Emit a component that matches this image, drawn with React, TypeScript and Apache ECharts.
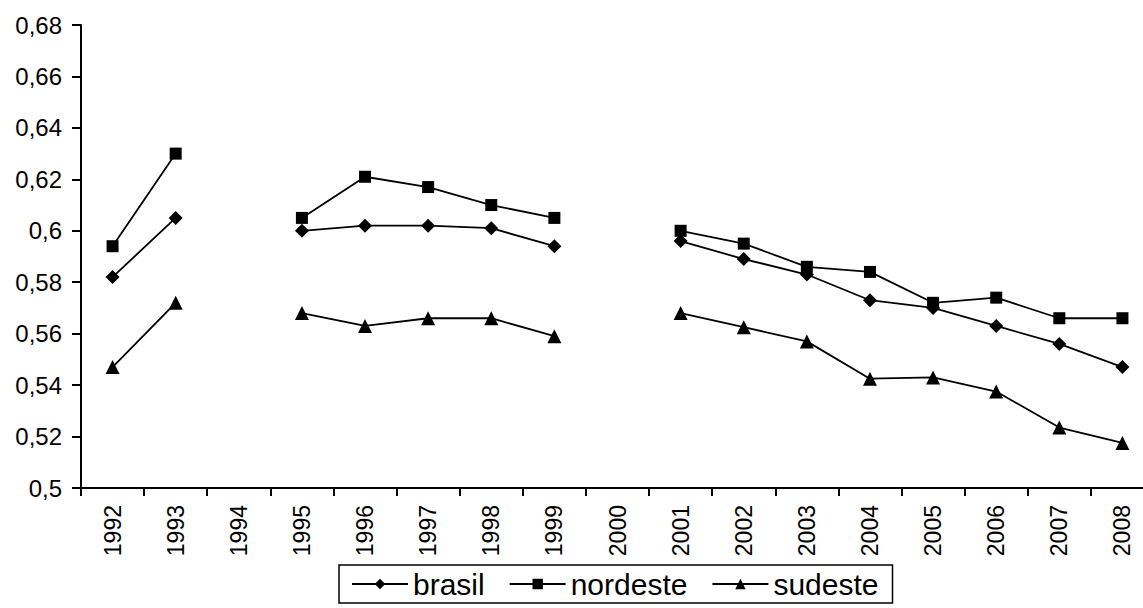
import React, { useEffect, useRef } from "react";
import * as echarts from "echarts";

// Years on the category axis (1994 and 2000 have no survey data)
const years = [
  "1992", "1993", "1994", "1995", "1996", "1997", "1998", "1999", "2000",
  "2001", "2002", "2003", "2004", "2005", "2006", "2007", "2008",
];

const brasil = [
  0.582, 0.605, null, 0.600, 0.602, 0.602, 0.601, 0.594, null,
  0.596, 0.589, 0.583, 0.573, 0.570, 0.563, 0.556, 0.547,
];

const nordeste = [
  0.594, 0.630, null, 0.605, 0.621, 0.617, 0.610, 0.605, null,
  0.600, 0.595, 0.586, 0.584, 0.572, 0.574, 0.566, 0.566,
];

const sudeste = [
  0.547, 0.572, null, 0.568, 0.563, 0.566, 0.566, 0.559, null,
  0.568, 0.5625, 0.557, 0.5425, 0.543, 0.5375, 0.5235, 0.5175,
];

const yMin = 0.5;
const yMax = 0.68;
const yStep = 0.02;

const FONT = "'Liberation Sans', Arial, sans-serif";

function fmtComma(v: number): string {
  return String(Number(v.toFixed(2))).replace(".", ",");
}

export default function App() {
  const ref = useRef<HTMLDivElement>(null);

  useEffect(() => {
    if (!ref.current) return;
    const chart = echarts.init(ref.current, undefined, { renderer: "svg" });

    const mkSeries = (name: string, data: (number | null)[], symbol: string, size: number) => ({
      name,
      type: "line",
      data,
      symbol,
      symbolSize: size,
      connectNulls: false,
      lineStyle: { color: "#000", width: 1.8 },
      itemStyle: { color: "#000" },
    });

    chart.setOption({
      animation: false,
      backgroundColor: "#fff",
      grid: { left: 81, top: 25, right: 6, bottom: 120, containLabel: false },
      xAxis: {
        type: "category",
        data: years,
        boundaryGap: true,
        axisLine: { lineStyle: { color: "#000", width: 2 } },
        axisTick: { show: true, inside: false, length: 8, lineStyle: { color: "#000", width: 2 } },
        axisLabel: {
          rotate: 90,
          margin: 17,
          color: "#000",
          fontSize: 23,
          fontFamily: FONT,
          interval: 0,
        },
        splitLine: { show: false },
      },
      yAxis: {
        type: "value",
        min: yMin,
        max: yMax,
        interval: yStep,
        axisLine: { show: true, lineStyle: { color: "#000", width: 2 } },
        axisTick: { show: true, length: 9, lineStyle: { color: "#000", width: 2 } },
        axisLabel: {
          margin: 19,
          color: "#000",
          fontSize: 24,
          fontFamily: FONT,
          formatter: (v: number) => fmtComma(v),
        },
        splitLine: { show: false },
      },
      legend: {
        left: 339,
        top: 565,
        orient: "horizontal",
        padding: [4, 14, 4, 12],
        itemGap: 24,
        itemWidth: 56,
        itemHeight: 13,
        borderColor: "#000",
        borderWidth: 1.5,
        textStyle: { color: "#000", fontSize: 30, fontFamily: FONT },
        data: ["brasil", "nordeste", "sudeste"],
      },
      series: [
        mkSeries("brasil", brasil, "diamond", 14),
        mkSeries("nordeste", nordeste, "rect", 12),
        mkSeries("sudeste", sudeste, "triangle", 14),
      ],
    });

    return () => chart.dispose();
  }, []);

  return (
    <div
      style={{
        position: "absolute",
        left: 0,
        top: 0,
        width: 1143,
        height: 608,
        overflow: "hidden",
        background: "#fff",
      }}
    >
      <div ref={ref} style={{ width: 1160, height: 608 }} />
    </div>
  );
}
